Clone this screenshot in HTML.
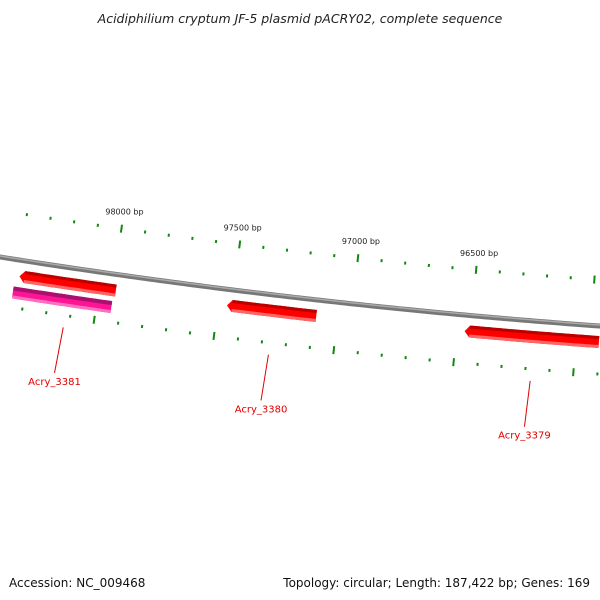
<!DOCTYPE html>
<html><head><meta charset="utf-8"><style>
body{margin:0;background:#fff;}
svg{display:block;font-family:"DejaVu Sans","Liberation Sans",sans-serif;}
</style></head><body>
<svg id="c" width="600" height="600" viewBox="0 0 600 600">
<text x="300" y="23" text-anchor="middle" font-size="12.5" font-style="italic" fill="#222">Acidiphilium cryptum JF-5 plasmid pACRY02, complete sequence</text>
<g id="bb"></g>
<g id="ticks"></g>
<g id="genes"></g>
<text x="9" y="587" font-size="12" fill="#111">Accession: NC_009468</text>
<text x="590" y="587" text-anchor="end" font-size="12" fill="#111">Topology: circular; Length: 187,422 bp; Genes: 169</text>
</svg>
<script>
const tickMajors=[98000,97500,97000,96500];
const tickStart=98400, tickEnd=95900, tickStep=100;
const geneNames=["Acry_3381","Acry_3380","Acry_3379","Acry_3381b"];
const geneStarts=[98391,97521,96525,98408];
const geneEnds=[97987,97147,95962,97996];
const geneLabeled=[true,true,true,false];
const geneTrack=[0,0,0,1];

const NS="http://www.w3.org/2000/svg";
const A=0.1583,B=-7.2e-5;
function bx(bp){return 115+(98000-bp)*0.238;}
function by(x){return 257+A*x+B*x*x;}
function nrm(x){const s=A+2*B*x;const l=Math.hypot(s,1);return [s/l,-1/l];}
function pt(x,off){const n=nrm(x);return [x+n[0]*off,by(x)+n[1]*off];}
function mk(tag,attrs,parent){const e=document.createElementNS(NS,tag);for(const k in attrs)e.setAttribute(k,attrs[k]);parent.appendChild(e);return e;}

let d="";for(let x=-5;x<=605;x+=5){const y=by(x);d+=(x===-5?"M":"L")+x+","+y.toFixed(2);}
const g=document.getElementById('bb');
const bb1=mk('path',{d:d,stroke:'#777',"stroke-width":5,fill:'none'},g);


const bb2=mk('path',{d:d,stroke:'#aaa',"stroke-width":1.5,fill:'none',transform:'translate(0,-1)'},g);



const tg=document.getElementById('ticks');
for(let bp=tickStart;bp>=tickEnd;bp-=tickStep){
  const major=bp%500===0;
  const len=major?8:3;
  [[0,46],[-14,-48]].forEach(([dx,off],i)=>{
    const x=bx(bp)+dx;const n=nrm(x);
    const c=pt(x,off);
    const l=mk('line',{x1:c[0]-n[0]*len/2,y1:c[1]-n[1]*len/2,x2:c[0]+n[0]*len/2,y2:c[1]+n[1]*len/2,stroke:'#118811',"stroke-width":2},tg);
    
    
  });
  if(tickMajors.includes(bp)){
    const c=pt(bx(bp),46);
    const t=mk('text',{x:c[0]+3,y:c[1]-14,"text-anchor":"middle","font-size":8,fill:'#222'},tg);
    t.textContent=bp+" bp";
    
    
  }
}

const gg=document.getElementById('genes');
function band(x1,x2,o1,o2,arrow){
  const pts=[];
  for(let x=x1;x<=x2;x+=4){pts.push(x);} if(pts[pts.length-1]!==x2)pts.push(x2);
  const up=pts.map(x=>pt(x,-o1)),dn=pts.map(x=>pt(x,-o2)).reverse();
  let all=up.concat(dn);
  if(arrow){const a=pt(x1-5,-(o1+o2)/2);all=[a].concat(up).concat(dn);}
  return all.map(p=>p[0].toFixed(1)+","+p[1].toFixed(1)).join(" ");
}
geneNames.forEach((nm,i)=>{
  const x1=Math.max(bx(geneStarts[i]),-10),x2=Math.min(bx(geneEnds[i]),610);
  const gr=mk('g',{},gg);
  
  
  if(geneTrack[i]===0){
    const a=x1+5;
    mk('polygon',{points:band(a,x2,10,22,true),fill:'#ff0000'},gr);
    mk('polygon',{points:band(a,x2,10,13,false),fill:'#bb0000'},gr);
    mk('polygon',{points:band(a,x2,19,22,false),fill:'#ff6666'},gr);
  }else{
    mk('polygon',{points:band(x1,x2,27,39,false),fill:'#ff1493'},gr);
    mk('polygon',{points:band(x1,x2,27,31,false),fill:'#aa1070'},gr);
    mk('polygon',{points:band(x1,x2,36,39,false),fill:'#ff70c0'},gr);
  }
  if(geneLabeled[i]){
    const mx=(x1+Math.min(x2,600))/2;const xs=mx+2;
    const p1=pt(xs,-60),p2=pt(xs,-106);
    const l=mk('line',{x1:p1[0],y1:p1[1],x2:p2[0]-2,y2:p2[1],stroke:'#e00000',"stroke-width":1},gr);
    
    
    const t=mk('text',{x:p2[0]-2,y:p2[1]+12,"text-anchor":"middle","font-size":10,fill:'#e00000'},gr);
    t.textContent=nm;
    
    
  }
});
</script>
</body></html>
